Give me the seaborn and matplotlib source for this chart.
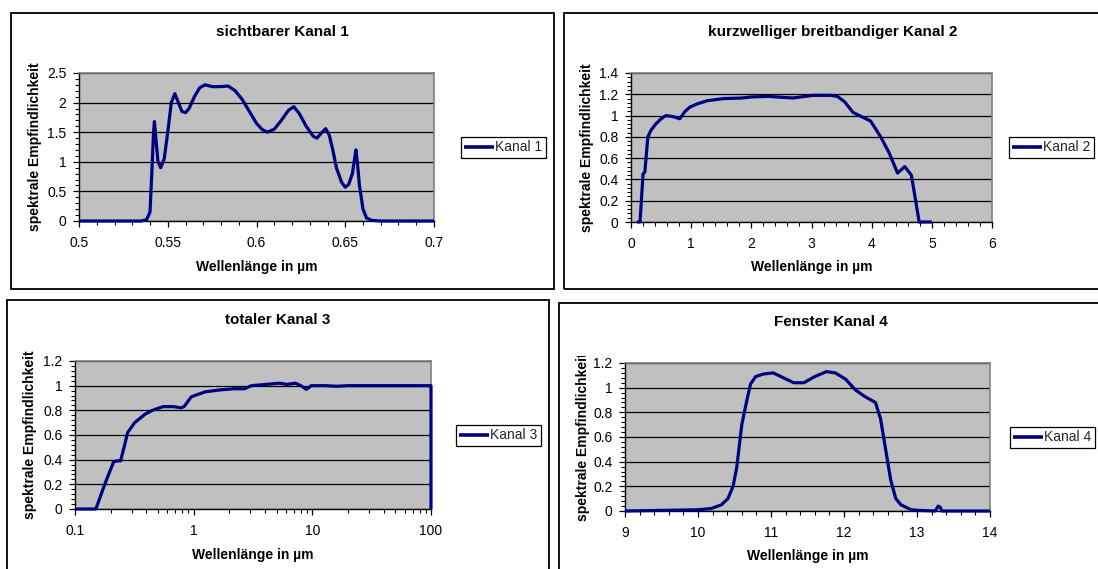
import matplotlib
matplotlib.use("Agg")
import matplotlib.pyplot as plt
import seaborn as sns
import pandas as pd
from matplotlib.patches import Rectangle
from matplotlib.transforms import Bbox
from matplotlib.ticker import MultipleLocator, LogLocator, FuncFormatter, NullFormatter

# ---------------- data ----------------
titles = ["sichtbarer Kanal 1", "kurzwelliger breitbandiger Kanal 2",
          "totaler Kanal 3", "Fenster Kanal 4"]
series_names = ["Kanal 1", "Kanal 2", "Kanal 3", "Kanal 4"]
x_label = "Wellenlänge in µm"
y_label = "spektrale Empfindlichkeit"

k1_x = [0.5, 0.535, 0.538, 0.540, 0.541, 0.542, 0.5425, 0.543, 0.5445, 0.546,
        0.548, 0.550, 0.552, 0.554, 0.556, 0.558, 0.560, 0.562, 0.565, 0.568,
        0.571, 0.575, 0.580, 0.584, 0.588, 0.592, 0.596, 0.600, 0.603, 0.606,
        0.610, 0.614, 0.618, 0.621, 0.624, 0.628, 0.632, 0.634, 0.637, 0.639,
        0.641, 0.643, 0.645, 0.648, 0.650, 0.652, 0.654, 0.6555, 0.656, 0.6568,
        0.658, 0.660, 0.662, 0.665, 0.670, 0.7]
k1_y = [0, 0, 0.02, 0.15, 0.8, 1.5, 1.68, 1.5, 1.0, 0.9,
        1.05, 1.5, 2.0, 2.15, 2.0, 1.85, 1.83, 1.9, 2.1, 2.25,
        2.3, 2.27, 2.27, 2.28, 2.2, 2.05, 1.85, 1.65, 1.55, 1.5,
        1.55, 1.7, 1.87, 1.93, 1.82, 1.6, 1.43, 1.4, 1.5, 1.56,
        1.45, 1.2, 0.9, 0.65, 0.57, 0.62, 0.8, 1.1, 1.2, 1.0,
        0.6, 0.2, 0.05, 0.01, 0, 0]

k2_x = [0.1, 0.15, 0.2, 0.23, 0.28, 0.33, 0.41, 0.5, 0.58, 0.7,
        0.81, 0.9, 0.98, 1.1, 1.27, 1.55, 1.84, 2.0, 2.29, 2.69,
        3.03, 3.32, 3.43, 3.55, 3.69, 3.83, 3.98, 4.15, 4.29, 4.43,
        4.55, 4.66, 4.79, 5.0]
k2_y = [0, 0, 0.45, 0.47, 0.8, 0.86, 0.92, 0.97, 1.0, 0.99,
        0.97, 1.04, 1.08, 1.11, 1.14, 1.16, 1.165, 1.175, 1.18, 1.165,
        1.19, 1.19, 1.18, 1.13, 1.03, 0.99, 0.95, 0.8, 0.65, 0.46,
        0.52, 0.44, 0, 0]

k3_x = [0.1, 0.15, 0.178, 0.211, 0.223, 0.242, 0.259, 0.278, 0.318, 0.391,
        0.449, 0.552, 0.678, 0.78, 0.83, 0.956, 1.25, 1.65, 2.18, 2.68,
        3.07, 4.03, 5.3, 6.08, 7.2, 8.0, 8.9, 9.8, 13.0, 16.0,
        20.0, 100.0, 100.0]
k3_y = [0, 0, 0.2, 0.38, 0.39, 0.39, 0.5, 0.62, 0.7, 0.77,
        0.8, 0.83, 0.83, 0.82, 0.83, 0.91, 0.95, 0.965, 0.975, 0.975,
        1.0, 1.01, 1.02, 1.01, 1.02, 1.0, 0.97, 1.0, 1.0, 0.995,
        1.0, 1.0, 0.0]

k4_x = [9.0, 10.0, 10.18, 10.32, 10.41, 10.48, 10.53, 10.6, 10.67, 10.72,
        10.79, 10.89, 11.03, 11.17, 11.31, 11.45, 11.6, 11.76, 11.88, 12.02,
        12.16, 12.28, 12.43, 12.5, 12.57, 12.64, 12.71, 12.78, 12.92, 13.02,
        13.25, 13.29, 13.32, 13.34, 14.0]
k4_y = [0, 0.01, 0.02, 0.05, 0.1, 0.2, 0.35, 0.7, 0.9, 1.03,
        1.09, 1.11, 1.12, 1.08, 1.04, 1.04, 1.09, 1.13, 1.12, 1.07,
        0.98, 0.93, 0.88, 0.75, 0.5, 0.25, 0.1, 0.05, 0.01, 0.005,
        0, 0.04, 0.03, 0, 0]

xlims = [(0.5, 0.7), (0, 6), (0.1, 100), (9, 14)]
ylims = [(0, 2.5), (0, 1.4), (0, 1.2), (0, 1.2)]
x_major = [0.05, 1, None, 1]
x_minor = [0.01, 0.2, None, 0.2]
y_major = [0.5, 0.2, 0.2, 0.2]
y_minor = [0.1, 0.04, 0.04, 0.04]

# ---------------- layout (pixels) ----------------
W, H = 1098, 569
sns.set_theme(style="white")
plt.rcParams['font.family'] = ['Liberation Sans', 'DejaVu Sans']

fig = plt.figure(figsize=(W / 100, H / 100), dpi=100)

boxes = [(11, 13, 554, 289), (564, 13, 1110, 289), (7, 300, 549, 580), (559, 303, 1110, 580)]
plots = [(79, 73, 434, 221), (631, 73, 992, 222), (75, 361, 431, 509), (625, 363, 990, 511)]
legs = [(461, 137), (1009, 137), (456, 425), (1010, 427)]
title_pos = [(282, 32), (833, 32), (278, 320), (831, 322)]
xlab_y = [267, 267, 555, 556]
ylab_x = [35, 587, 30, 583]
ylab_clip_top = [None, None, None, 356]

LINE = "#000080"
datasets = [(k1_x, k1_y), (k2_x, k2_y), (k3_x, k3_y), (k4_x, k4_y)]
fmt = FuncFormatter(lambda v, p: "%g" % round(v, 6))

for i in range(4):
    bx0, by0, bx1, by1 = boxes[i]
    fig.patches.append(Rectangle((bx0 / W, 1 - by1 / H), (bx1 - bx0) / W, (by1 - by0) / H,
                                 transform=fig.transFigure, fill=False,
                                 edgecolor="black", linewidth=1.3, zorder=0))
    x0, y0, x1, y1 = plots[i]
    ax = fig.add_axes([x0 / W, 1 - y1 / H, (x1 - x0) / W, (y1 - y0) / H])
    ax.set_facecolor("#C0C0C0")
    if i == 2:
        ax.set_xscale("log")
    xs, ys = datasets[i]
    df = pd.DataFrame({"x": xs, "y": ys})
    sns.lineplot(data=df, x="x", y="y", ax=ax, color=LINE, linewidth=2.3,
                 sort=False, estimator=None, label=series_names[i], legend=False)
    for ln in ax.lines:
        ln.set_clip_on(False)
        ln.set_solid_joinstyle("round")
        ln.set_solid_capstyle("butt")
        ln.set_zorder(5)
    ax.set_xlim(*xlims[i])
    ax.set_ylim(*ylims[i])
    if i == 2:
        ax.xaxis.set_major_locator(LogLocator(base=10, numticks=10))
        ax.xaxis.set_minor_locator(LogLocator(base=10, subs=range(2, 10), numticks=50))
        ax.xaxis.set_minor_formatter(NullFormatter())
    else:
        ax.xaxis.set_major_locator(MultipleLocator(x_major[i]))
        ax.xaxis.set_minor_locator(MultipleLocator(x_minor[i]))
    ax.xaxis.set_major_formatter(fmt)
    ax.yaxis.set_major_locator(MultipleLocator(y_major[i]))
    ax.yaxis.set_minor_locator(MultipleLocator(y_minor[i]))
    ax.yaxis.set_major_formatter(fmt)
    ax.grid(True, axis="y", which="major", color="black", linewidth=0.9)
    ax.grid(False, axis="x")
    ax.set_axisbelow(True)
    for s in ["top", "right"]:
        ax.spines[s].set_color("#808080")
        ax.spines[s].set_linewidth(1.2)
    for s in ["left", "bottom"]:
        ax.spines[s].set_color("black")
        ax.spines[s].set_linewidth(1.0)
    ax.tick_params(axis="both", which="major", direction="out", length=4, width=0.9,
                   color="black", labelsize=10, labelcolor="black",
                   bottom=True, left=True)
    ax.tick_params(axis="x", which="major", pad=6.5)
    ax.tick_params(axis="y", which="major", pad=5)
    ax.tick_params(axis="both", which="minor", direction="out", length=3, width=0.8,
                   color="black", bottom=True, left=True)
    ax.set_xlabel("")
    ax.set_ylabel("")

    # titles and labels
    tx, ty = title_pos[i]
    fig.text(tx / W, 1 - ty / H, titles[i], ha="center", va="center",
             fontsize=11, fontweight="bold", color="black")
    fig.text(((x0 + x1) / 2) / W, 1 - xlab_y[i] / H, x_label, ha="center", va="center",
             fontsize=10, fontweight="bold", color="black")
    yl = fig.text(ylab_x[i] / W, 1 - ((y0 + y1) / 2) / H, y_label, ha="center", va="center",
                  rotation=90, fontsize=10, fontweight="bold", color="black")
    if ylab_clip_top[i] is not None:
        ct = ylab_clip_top[i]
        yl.set_clip_box(Bbox.from_extents(0, 0, W, H - ct))
        yl.set_clip_on(True)

    lx, ly = legs[i]
    leg = ax.legend(loc="upper left", bbox_to_anchor=(lx / W, 1 - ly / H),
                    bbox_transform=fig.transFigure, frameon=True, fancybox=False,
                    edgecolor="black", framealpha=1, borderpad=0.25,
                    handlelength=2.1, handletextpad=0.1, fontsize=10,
                    borderaxespad=0)
    leg.get_frame().set_linewidth(0.9)
    for h in leg.get_lines():
        h.set_linewidth(2.6)

fig.savefig("out.png", dpi=100)
